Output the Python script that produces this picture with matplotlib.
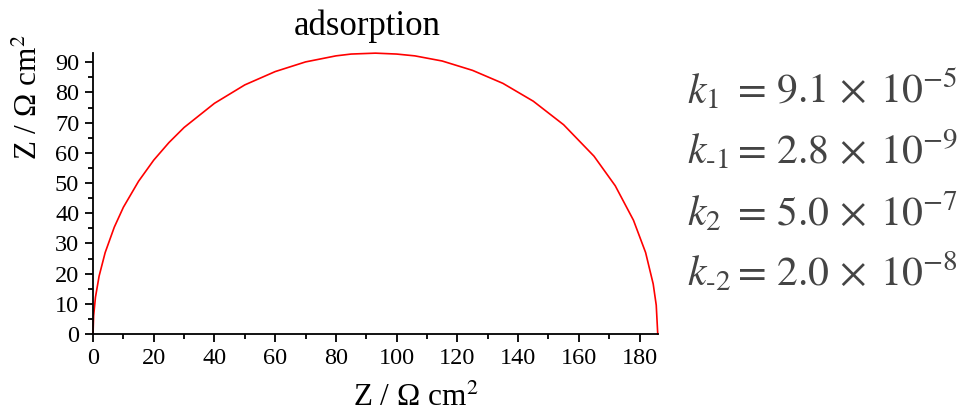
import matplotlib.pyplot as plt
from matplotlib.ticker import MultipleLocator

plt.rcParams['font.family'] = ['Liberation Serif', 'DejaVu Serif']
plt.rcParams['mathtext.fontset'] = 'stix'

z_re = [0, 0.2, 0.8, 2, 4, 7, 10, 15, 20, 25, 30, 40, 50, 60, 70, 80, 85,
        93, 100, 106, 115, 125, 135, 145, 155, 165, 172, 178, 182, 184.5,
        185.5, 186]
z_im = [0, 6.1, 12.2, 19.2, 27.0, 35.4, 42.0, 50.6, 57.6, 63.4, 68.4, 76.4,
        82.5, 86.9, 90.1, 92.1, 92.7, 93.0, 92.7, 92.1, 90.4, 87.3, 83.0,
        77.1, 69.3, 58.9, 49.1, 37.7, 27.0, 16.6, 9.6, 0]

rate_names = ["k_1", "k_{\\text{-}1}", "k_2", "k_{\\text{-}2}"]
rate_mant = ["9.1", "2.8", "5.0", "2.0"]
rate_exp = [-5, -9, -7, -8]

fig = plt.figure(figsize=(9.67, 4.12), dpi=100)
ax = fig.add_axes([0.0962, 0.189, 0.584, 0.682])

ax.plot(z_re, z_im, color='red', lw=1.2, clip_on=False)
ax.set_xlim(0, 186)
ax.set_ylim(0, 93)

ax.spines['top'].set_visible(False)
ax.spines['right'].set_visible(False)
ax.spines['left'].set_linewidth(1.3)
ax.spines['bottom'].set_linewidth(1.3)
ax.xaxis.set_major_locator(MultipleLocator(20))
ax.xaxis.set_minor_locator(MultipleLocator(10))
ax.yaxis.set_major_locator(MultipleLocator(10))
ax.yaxis.set_minor_locator(MultipleLocator(5))
ax.tick_params(which='major', length=6, width=1.3, labelsize=17.5,
               direction='out', pad=4)
ax.tick_params(which='minor', length=3.5, width=1.3, direction='out')

fig.text(0.38, 0.915, "adsorption", fontsize=25, ha='center', va='baseline')
fig.text(0.43, 0.0146, "Z / Ω cm$^2$", fontsize=22.5, ha='center',
         va='baseline')
fig.text(0.03, 0.765, "Z / Ω cm$^2$", fontsize=22.5, ha='center',
         va='center', rotation=90)

ys = [0.750, 0.604, 0.454, 0.308]
for name, m, e, y in zip(rate_names, rate_mant, rate_exp, ys):
    fig.text(0.710, y, "$%s$" % name, fontsize=30, color='#444444',
             ha='left', va='baseline')
    s = r"$=\, \mathrm{%s} \,\times\; 10^{%d}$" % (m, e)
    fig.text(0.756, y, s, fontsize=30, color='#444444', ha='left',
             va='baseline')

fig.savefig("out.png", dpi=100)
